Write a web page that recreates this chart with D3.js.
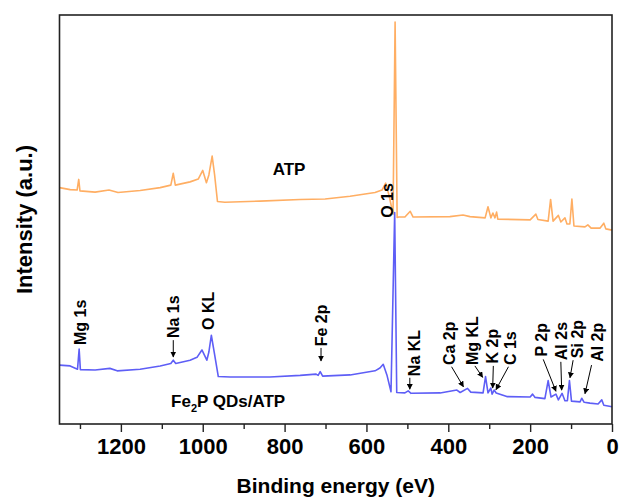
<!DOCTYPE html>
<html>
<head>
<meta charset="utf-8">
<script src="https://cdn.jsdelivr.net/npm/d3@7"></script>
<style>
  html, body { margin: 0; padding: 0; background: #fff; }
  svg { display: block; }
  text { font-family: "Liberation Sans", Arial, Helvetica, sans-serif; font-weight: bold; fill: #000; }
</style>
</head>
<body>
<svg id="chart" width="619" height="502"></svg>
<script>
// XPS survey spectra: binding energy (eV) vs. intensity (a.u., offset stacked)
const atpEnergy = [1350, 1324, 1307, 1303, 1300, 1263, 1229, 1207, 1153, 1104, 1078, 1072, 1067, 1031, 1011,
  1000, 991, 985, 977, 971, 964, 946, 860, 762, 701, 640, 579, 562, 553, 545, 535, 530, 525, 521, 506, 493,
  486, 396, 364, 347, 310, 303, 296, 291, 286, 282, 279, 200, 186, 181, 156, 150, 144, 131, 125, 115, 110,
  103, 98, 93, 66, 59, 51, 29, 20, 15, 0];
const atpIntensity = [57.8, 57.3, 57.2, 59.8, 57.0, 56.7, 57.2, 56.6, 57.1, 57.8, 58.4, 61.3, 58.4, 59.2, 59.9,
  62.0, 59.0, 60.9, 65.5, 60.9, 54.4, 54.2, 54.5, 54.9, 55.0, 55.7, 56.6, 57.2, 58.9, 56.0, 51.3, 98.3, 50.5, 50.6, 50.6, 52.0,
  50.6, 50.7, 51.1, 50.7, 50.4, 53.1, 50.4, 51.6, 50.4, 51.8, 50.1, 49.9, 51.3, 50.0, 49.6, 54.9, 49.6, 51.0, 49.4, 50.4, 48.9,
  48.9, 55.0, 48.4, 48.2, 48.7, 47.9, 47.9, 49.1, 47.7, 47.4];

const fe2pEnergy = [1350, 1324, 1306, 1302, 1299, 1263, 1227, 1209, 1153, 1104, 1078, 1072, 1066, 1031, 1014,
  1002, 990, 985, 979, 972, 962, 933, 836, 762, 723, 718, 713, 707, 640, 579, 567, 559, 550, 540, 531, 526,
  506, 498, 491, 420, 379, 371, 353, 345, 315, 309, 303, 296, 293, 288, 283, 257, 200, 194, 188, 164, 156,
  149, 137, 131, 122, 115, 109, 104, 99, 78, 74, 68, 54, 34, 25, 20, 0];
const fe2pIntensity = [14.4, 14.2, 13.4, 18.3, 13.3, 13.2, 13.6, 13.0, 13.4, 14.2, 14.8, 15.6, 14.8, 15.6, 16.3,
  18.1, 15.6, 17.6, 21.7, 17.6, 11.6, 11.5, 11.5, 11.9, 12.2, 11.9, 12.8, 11.7, 12.0, 13.0, 13.7, 14.6, 12.0, 7.9, 51.7, 7.7,
  7.6, 8.1, 7.5, 7.6, 8.3, 7.7, 8.7, 7.8, 7.6, 11.6, 7.6, 8.8, 7.3, 8.3, 7.6, 6.7, 6.6, 7.3, 6.5, 6.2, 10.6,
  6.6, 7.3, 5.9, 7.5, 5.7, 5.7, 10.6, 5.6, 5.4, 6.3, 5.3, 5.1, 4.9, 5.9, 4.6, 4.2];

const xTicks = [1200, 1000, 800, 600, 400, 200, 0];
const xMinorTicks = [1300, 1100, 900, 700, 500, 300, 100];

// Peak assignments: label anchor (energy, intensity) and optional arrow from -> to
const peakLabels = ["Mg 1s", "Na 1s", "O KL", "Fe 2p", "O 1s", "Na KL", "Ca 2p", "Mg KL", "K 2p", "C 1s", "P 2p", "Al 2s", "Si 2p", "Al 2p"];
const labelEnergy = [1300, 1072, 987, 711, 550, 484, 398, 342, 293, 249, 173, 125, 84, 37];
const labelIntensity = [19.3, 21.0, 23.0, 19.0, 50.4, 11.7, 14.4, 14.4, 14.8, 14.4, 16.5, 15.6, 16.1, 15.2];
const arrowFrom = [null, [1072, 20.5], null, [711, 18.6], null, [494, 11.3], [392, 14.0], [335, 14.2], [290, 14.2], [253, 14.0], [168, 15.8], [125, 15.2], [95, 15.6], [50, 14.4]];
const arrowTo = [null, [1072, 16.4], null, [711, 15.4], null, [494, 8.5], [363, 9.1], [316, 11.4], [291.5, 8.8], [283.5, 8.4], [137, 8.0], [123, 8.3], [102.6, 11.3], [66, 7.4]];

const seriesNames = ["ATP", "Fe2P QDs/ATP"];
const seriesLabelEnergy = [789, 938];
const seriesLabelIntensity = [60.9, 4.2];

const svg = d3.select("#chart");
const margin = { left: 59.5, right: 7, top: 15, bottom: 78 };
const W = 619, H = 502;

const x = d3.scaleLinear().domain([1350, 0]).range([margin.left, W - margin.right]);
const y = d3.scaleLinear().domain([0, 100]).range([H - margin.bottom, margin.top]);

const line = d3.line().x(d => x(d[0])).y(d => y(d[1]));

const atp = d3.zip(atpEnergy, atpIntensity);
const fe2p = d3.zip(fe2pEnergy, fe2pIntensity);

svg.append("path").datum(atp).attr("d", line)
  .attr("fill", "none").attr("stroke", "#FFAE63").attr("stroke-width", 1.6).attr("stroke-linejoin", "round");
svg.append("path").datum(fe2p).attr("d", line)
  .attr("fill", "none").attr("stroke", "#5E5EF6").attr("stroke-width", 1.6).attr("stroke-linejoin", "round");

// frame
svg.append("rect")
  .attr("x", margin.left).attr("y", margin.top)
  .attr("width", W - margin.right - margin.left).attr("height", H - margin.bottom - margin.top)
  .attr("fill", "none").attr("stroke", "#222").attr("stroke-width", 1.6);

// bottom axis
const xAxis = svg.append("g").attr("transform", `translate(0,${H - margin.bottom})`)
  .call(d3.axisBottom(x).tickValues(xTicks).tickSize(8).tickPadding(6).tickFormat(d3.format("d")));
xAxis.select(".domain").remove();
xAxis.selectAll(".tick line").attr("stroke", "#222").attr("stroke-width", 1.4);
xAxis.selectAll(".tick text").attr("font-size", 22).attr("font-family", "Liberation Sans, Arial, sans-serif").attr("font-weight", "bold").attr("fill", "#000");

const xMinor = svg.append("g").attr("transform", `translate(0,${H - margin.bottom})`)
  .call(d3.axisBottom(x).tickValues(xMinorTicks).tickSize(5).tickFormat(""));
xMinor.select(".domain").remove();
xMinor.selectAll(".tick line").attr("stroke", "#222").attr("stroke-width", 1.4);

// axis titles
svg.append("text").attr("x", (margin.left + W - margin.right) / 2).attr("y", 493)
  .attr("text-anchor", "middle").attr("font-size", 21).text("Binding energy (eV)");
svg.append("text")
  .attr("transform", `translate(32,${(margin.top + H - margin.bottom) / 2}) rotate(-90)`)
  .attr("text-anchor", "middle").attr("font-size", 22).text("Intensity (a.u.)");

// arrow marker
svg.append("defs").append("marker")
  .attr("id", "arrowhead").attr("viewBox", "0 0 10 10")
  .attr("refX", 9).attr("refY", 5).attr("markerWidth", 6).attr("markerHeight", 6)
  .attr("markerUnits", "userSpaceOnUse").attr("orient", "auto")
  .append("path").attr("d", "M0,0 L10,5 L0,10 Z").attr("fill", "#000");

// peak labels
peakLabels.forEach((t, i) => {
  svg.append("text")
    .attr("transform", `translate(${x(labelEnergy[i])},${y(labelIntensity[i])}) rotate(-90)`)
    .attr("dy", "0.36em").attr("text-anchor", "start").attr("font-size", 16).text(t);
  if (arrowFrom[i]) {
    svg.append("line")
      .attr("x1", x(arrowFrom[i][0])).attr("y1", y(arrowFrom[i][1]))
      .attr("x2", x(arrowTo[i][0])).attr("y2", y(arrowTo[i][1]))
      .attr("stroke", "#000").attr("stroke-width", 1).attr("marker-end", "url(#arrowhead)");
  }
});

// series names
svg.append("text").attr("x", x(seriesLabelEnergy[0])).attr("y", y(seriesLabelIntensity[0]))
  .attr("text-anchor", "middle").attr("font-size", 17).text(seriesNames[0]);
const s2 = svg.append("text").attr("x", x(seriesLabelEnergy[1])).attr("y", y(seriesLabelIntensity[1]))
  .attr("text-anchor", "middle").attr("font-size", 17);
s2.append("tspan").text("Fe");
s2.append("tspan").attr("font-size", 11).attr("dy", 5).text("2");
s2.append("tspan").attr("dy", -5).text("P QDs/ATP");
</script>
</body>
</html>
